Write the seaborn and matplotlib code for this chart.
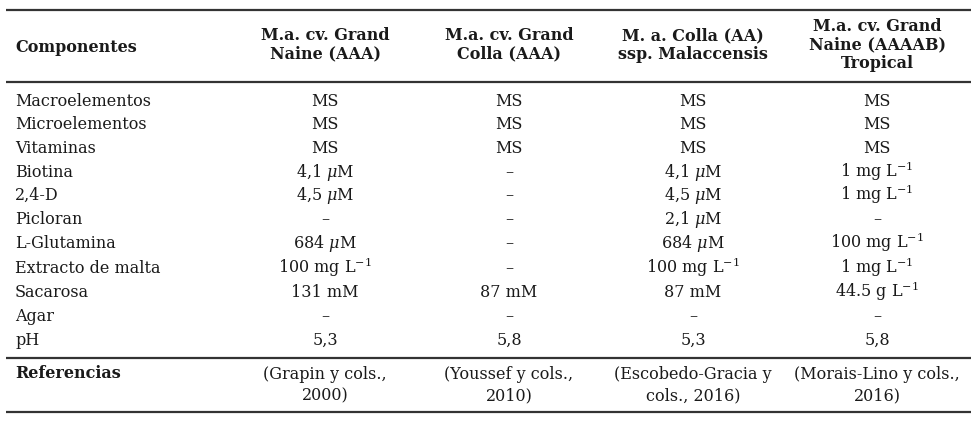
import matplotlib
matplotlib.use("Agg")
import matplotlib.pyplot as plt
import seaborn as sns
import pandas as pd

componentes = ["Macroelementos", "Microelementos", "Vitaminas", "Biotina", "2,4-D",
               "Picloran", "L-Glutamina", "Extracto de malta", "Sacarosa", "Agar", "pH"]
encabezados = ["M.a. cv. Grand\nNaine (AAA)", "M.a. cv. Grand\nColla (AAA)",
               "M. a. Colla (AA)\nssp. Malaccensis", "M.a. cv. Grand\nNaine (AAAAB)\nTropical"]
grand_naine = ["MS", "MS", "MS", r"4,1 $\mu$M", r"4,5 $\mu$M", "–", r"684 $\mu$M",
               r"100 mg L$^{-1}$", "131 mM", "–", "5,3"]
grand_colla = ["MS", "MS", "MS", "–", "–", "–", "–", "–", "87 mM", "–", "5,8"]
colla_malaccensis = ["MS", "MS", "MS", r"4,1 $\mu$M", r"4,5 $\mu$M", r"2,1 $\mu$M", r"684 $\mu$M",
                     r"100 mg L$^{-1}$", "87 mM", "–", "5,3"]
naine_tropical = ["MS", "MS", "MS", r"1 mg L$^{-1}$", r"1 mg L$^{-1}$", "–", r"100 mg L$^{-1}$",
                  r"1 mg L$^{-1}$", r"44.5 g L$^{-1}$", "–", "5,8"]
referencias = ["(Grapin y cols.,\n2000)", "(Youssef y cols.,\n2010)",
               "(Escobedo-Gracia y\ncols., 2016)", "(Morais-Lino y cols.,\n2016)"]

df = pd.DataFrame({"Componentes": componentes,
                   encabezados[0]: grand_naine, encabezados[1]: grand_colla,
                   encabezados[2]: colla_malaccensis, encabezados[3]: naine_tropical})

sns.set_theme(style="white")
plt.rcParams["font.family"] = ["DejaVu Serif"]
plt.rcParams["mathtext.fontset"] = "dejavuserif"

W, H = 980, 421
fig = plt.figure(figsize=(W / 100, H / 100), dpi=100)
ax = fig.add_axes([0, 0, 1, 1])
ax.set_xlim(0, W)
ax.set_ylim(H, 0)
ax.axis("off")

col_x = [325, 509, 693, 877]
left_x = 15
row_base = [106, 129, 153, 177, 200, 224, 248, 273, 297, 321, 345]
fs = 11.5
col = "#1a1a1a"

# rules
for y in [10, 82, 358, 412]:
    ax.plot([6, 971], [y, y], color="#333333", lw=1.6, solid_capstyle="butt")

# header
ax.text(left_x, 47, "Componentes", ha="left", va="center", fontsize=fs, fontweight="bold", color=col)
for i, h in enumerate(encabezados):
    ax.text(col_x[i], 45, h, ha="center", va="center", fontsize=fs, fontweight="bold",
            color=col, linespacing=1.12)

# body
for r, comp in enumerate(df["Componentes"]):
    ax.text(left_x, row_base[r], comp, ha="left", va="baseline", fontsize=fs, color=col)
    for i, h in enumerate(encabezados):
        ax.text(col_x[i], row_base[r], df[h].iloc[r], ha="center", va="baseline",
                fontsize=fs, color=col)

# references
ax.text(left_x, 373, "Referencias", ha="left", va="center", fontsize=fs, fontweight="bold", color=col)
for i, ref in enumerate(referencias):
    ax.text(col_x[i], 385, ref, ha="center", va="center", fontsize=fs, color=col, linespacing=1.3)

fig.savefig("out.png", dpi=100)
